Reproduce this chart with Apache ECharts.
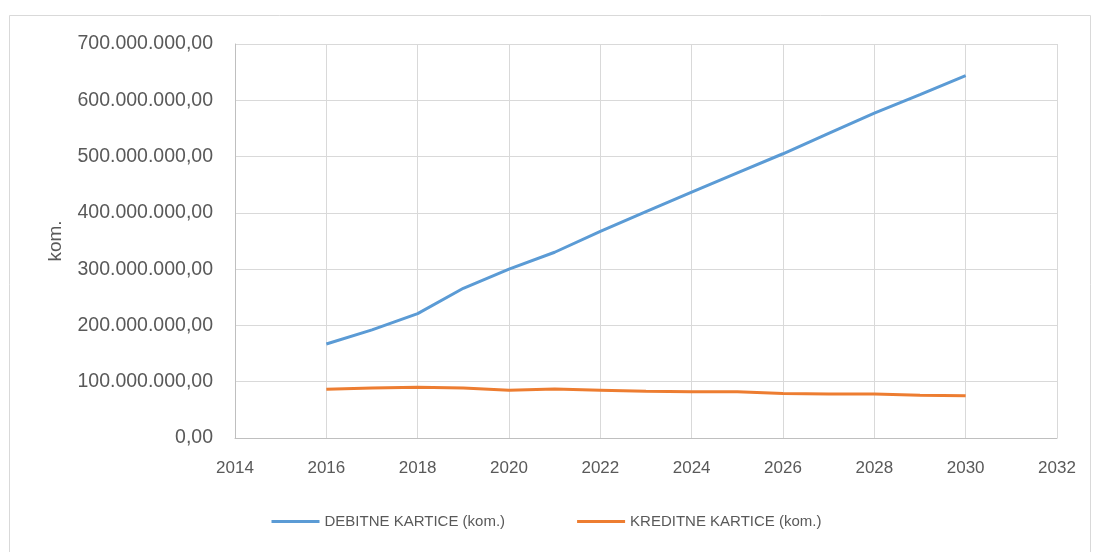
<!DOCTYPE html>
<html>
<head>
<meta charset="UTF-8">
<title>Kartice</title>
<script type="text/javascript" src="https://cdn.jsdelivr.net/npm/echarts@6/dist/echarts.min.js"></script>
</head>
<body style="margin:0;background:#fff;">

<div id="box" style="width:1093px;height:552px;"></div>

<script type="text/javascript">

// godine
var years = [2016, 2017, 2018, 2019, 2020, 2021, 2022, 2023, 2024, 2025, 2026, 2027, 2028, 2029, 2030];
// debitne kartice (kom.)
var debitne = [167e6, 192e6, 221e6, 266e6, 300e6, 330e6, 367e6, 402e6, 437e6, 471e6, 505e6, 541e6, 577e6, 610e6, 644e6];
// kreditne kartice (kom.)
var kreditne = [86.5e6, 89e6, 90e6, 89e6, 85e6, 87e6, 85e6, 83e6, 82e6, 82e6, 79e6, 78e6, 78e6, 76e6, 75e6];
var seriesNames = ['DEBITNE KARTICE (kom.)', 'KREDITNE KARTICE (kom.)'];

function pairs(xs, ys) {
  var out = [];
  for (var i = 0; i < xs.length; i++) out.push([xs[i], ys[i]]);
  return out;
}

// 700000000 -> 700.000.000,00
function fmt(v) {
  var s = String(Math.round(v)).replace(/\B(?=(\d{3})+(?!\d))/g, '.');
  return s + ',00';
}

var mychart = echarts.init(document.getElementById('box'));

var font = 'Liberation Sans, Arial, sans-serif';

var option = {
  animation: false,
  backgroundColor: '#fff',
  graphic: [{
    type: 'rect',
    shape: { x: 9.5, y: 15.5, width: 1081, height: 560 },
    style: { fill: 'none', stroke: '#d9d9d9', lineWidth: 1 },
    silent: true
  }],
  grid: { left: 235, right: 36, top: 44, bottom: 114 },
  legend: {
    bottom: 18,
    left: 'center',
    itemWidth: 48,
    itemHeight: 3,
    itemGap: 72,
    icon: 'rect',
    textStyle: { fontFamily: font, fontSize: 15, color: '#595959' },
    data: seriesNames
  },
  xAxis: {
    type: 'value',
    min: 2014,
    max: 2032,
    interval: 2,
    axisLine: { lineStyle: { color: '#bfbfbf' } },
    axisTick: { show: false },
    splitLine: { lineStyle: { color: '#d9d9d9', width: 1 } },
    axisLabel: {
      fontFamily: font, fontSize: 17, color: '#595959', margin: 22,
      formatter: function (v) { return String(v); }
    }
  },
  yAxis: {
    type: 'value',
    min: 0,
    max: 700000000,
    interval: 100000000,
    name: 'kom.',
    nameLocation: 'middle',
    nameGap: 170,
    nameTextStyle: { fontFamily: font, fontSize: 19, color: '#595959' },
    axisLine: { show: true, lineStyle: { color: '#bfbfbf' } },
    axisTick: { show: false },
    splitLine: { lineStyle: { color: '#d9d9d9', width: 1 } },
    axisLabel: { fontFamily: font, fontSize: 19.5, color: '#595959', margin: 22, formatter: fmt }
  },
  series: [{
    name: seriesNames[0],
    type: 'line',
    data: pairs(years, debitne),
    showSymbol: false,
    lineStyle: { width: 3, color: '#5b9bd5' },
    itemStyle: { color: '#5b9bd5' }
  }, {
    name: seriesNames[1],
    type: 'line',
    data: pairs(years, kreditne),
    showSymbol: false,
    lineStyle: { width: 3, color: '#ed7d31' },
    itemStyle: { color: '#ed7d31' }
  }]
};

mychart.setOption(option);
</script>
</body>
</html>
